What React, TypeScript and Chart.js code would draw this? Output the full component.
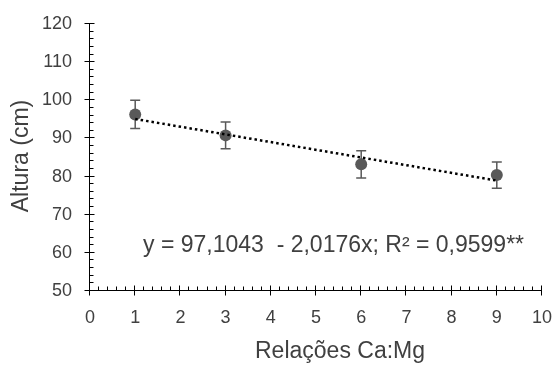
import React, { useEffect, useRef } from "react";
import { Chart, registerables } from "chart.js";

Chart.register(...registerables);

// ---- data ----
const ratios = [1, 3, 6, 9];
const heights = [96.3, 90.8, 83.2, 80.4];
const errors = [3.7, 3.5, 3.6, 3.45];
const trendX = [1, 9];
const trendY = [95.09, 78.95];
const xTickValues = [0, 1, 2, 3, 4, 5, 6, 7, 8, 9, 10];
const yTickValues = [50, 60, 70, 80, 90, 100, 110, 120];
const xMinorStep = 0.2;
const yMinorStep = 2;
const equationText = "y = 97,1043  - 2,0176x; R² = 0,9599**";
const xTitle = "Relações Ca:Mg";
const yTitle = "Altura (cm)";

const FONT = "'Liberation Sans', Arial, sans-serif";
const TEXT = "#404040";
const MARK = "#595959";

const errorBarsPlugin = {
  id: "errorBars",
  beforeDatasetsDraw(chart: any) {
    const { ctx, scales } = chart;
    const xs = scales.x;
    const ys = scales.y;
    ctx.save();
    ctx.strokeStyle = MARK;
    ctx.lineWidth = 1.5;
    ratios.forEach((r, i) => {
      const px = xs.getPixelForValue(r);
      const top = ys.getPixelForValue(heights[i] + errors[i]);
      const bot = ys.getPixelForValue(heights[i] - errors[i]);
      ctx.beginPath();
      ctx.moveTo(px, top);
      ctx.lineTo(px, bot);
      ctx.moveTo(px - 5, top);
      ctx.lineTo(px + 5, top);
      ctx.moveTo(px - 5, bot);
      ctx.lineTo(px + 5, bot);
      ctx.stroke();
    });
    ctx.restore();
  },
};

const axesPlugin = {
  id: "axesDecor",
  afterDraw(chart: any) {
    const { ctx, scales, chartArea } = chart;
    const xs = scales.x;
    const ys = scales.y;
    const ax = Math.round(chartArea.left) - 0.5;
    const ay = Math.round(chartArea.bottom) - 0.5;
    ctx.save();
    ctx.strokeStyle = "#000";
    ctx.lineWidth = 1;
    ctx.beginPath();
    // axis lines
    ctx.moveTo(ax, Math.round(chartArea.top));
    ctx.lineTo(ax, ay);
    ctx.lineTo(Math.round(chartArea.right), ay);
    // x ticks
    const xMin = xTickValues[0];
    const xMax = xTickValues[xTickValues.length - 1];
    const nx = Math.round((xMax - xMin) / xMinorStep);
    for (let i = 0; i <= nx; i++) {
      const v = xMin + i * xMinorStep;
      const px = Math.round(xs.getPixelForValue(v)) - 0.5;
      const major = i % Math.round(1 / xMinorStep) === 0;
      ctx.moveTo(px, major ? ay - 5 : ay - 4);
      ctx.lineTo(px, major ? ay + 5 : ay);
    }
    // y ticks
    const yMin = yTickValues[0];
    const yMax = yTickValues[yTickValues.length - 1];
    const ny = Math.round((yMax - yMin) / yMinorStep);
    for (let i = 0; i <= ny; i++) {
      const v = yMin + i * yMinorStep;
      const py = Math.round(ys.getPixelForValue(v)) - 0.5;
      const major = i % Math.round(10 / yMinorStep) === 0;
      ctx.moveTo(major ? ax - 5 : ax, py);
      ctx.lineTo(major ? ax + 5 : ax + 4, py);
    }
    ctx.stroke();

    // titles and equation
    ctx.fillStyle = TEXT;
    ctx.font = `23px ${FONT}`;
    ctx.textBaseline = "alphabetic";
    ctx.textAlign = "left";
    ctx.fillText(equationText, 143, 252);

    ctx.textAlign = "center";
    ctx.fillText(xTitle, 340, 358);

    ctx.translate(28, 156);
    ctx.rotate(-Math.PI / 2);
    ctx.fillText(yTitle, 0, 0);
    ctx.restore();
  },
};

function noScalePadding(s: any) {
  s.paddingTop = 0;
  s.paddingBottom = 0;
  s.paddingLeft = 0;
  s.paddingRight = 0;
}

export default function App() {
  const ref = useRef<HTMLCanvasElement | null>(null);
  useEffect(() => {
    if (!ref.current) return;
    const chart = new Chart(ref.current, {
      type: "scatter",
      data: {
        datasets: [
          {
            type: "line",
            data: trendX.map((x, i) => ({ x, y: trendY[i] })),
            borderColor: "#000",
            borderWidth: 2.5,
            borderDash: [2.5, 3],
            pointRadius: 0,
            fill: false,
          } as any,
          {
            data: ratios.map((x, i) => ({ x, y: heights[i] })),
            backgroundColor: MARK,
            borderColor: MARK,
            pointRadius: 6,
            borderWidth: 0,
          },
        ],
      },
      options: {
        animation: false,
        responsive: false,
        events: [],
        layout: { padding: { top: 24, right: 16, left: 0, bottom: 0 } },
        plugins: { legend: { display: false }, tooltip: { enabled: false } },
        scales: {
          x: {
            type: "linear",
            min: xTickValues[0],
            max: xTickValues[xTickValues.length - 1],
            grid: { display: false, drawTicks: false },
            border: { display: false },
            ticks: {
              stepSize: 1,
              padding: 16,
              color: TEXT,
              font: { size: 18, family: FONT },
              maxRotation: 0,
            },
            afterFit: (s: any) => {
              s.height = 74;
              noScalePadding(s);
            },
          },
          y: {
            type: "linear",
            min: yTickValues[0],
            max: yTickValues[yTickValues.length - 1],
            grid: { display: false, drawTicks: false },
            border: { display: false },
            ticks: {
              stepSize: 10,
              padding: 18,
              color: TEXT,
              font: { size: 18, family: FONT },
            },
            afterFit: (s: any) => {
              s.width = 90;
              noScalePadding(s);
            },
          },
        },
      },
      plugins: [errorBarsPlugin, axesPlugin],
    });
    return () => chart.destroy();
  }, []);
  return (
    <div style={{ position: "absolute", left: 0, top: 0, width: 558, height: 365, background: "#fff" }}>
      <canvas ref={ref} width={558} height={365} />
    </div>
  );
}
